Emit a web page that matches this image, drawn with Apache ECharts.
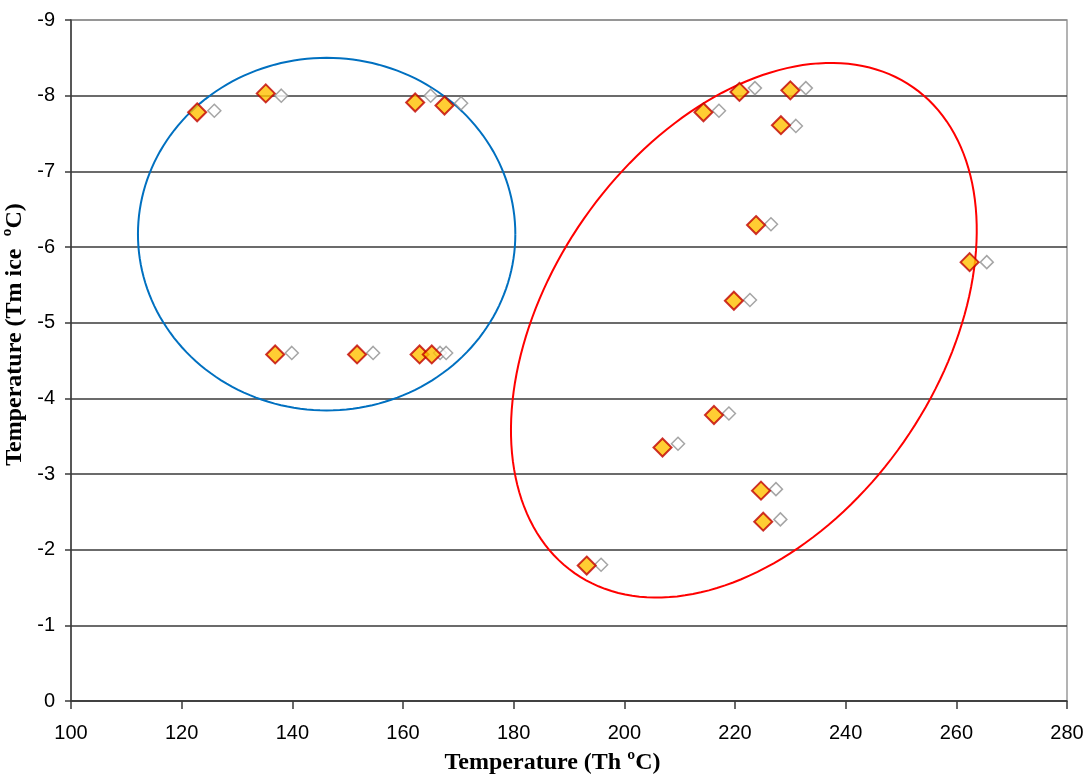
<!DOCTYPE html>
<html>
<head>
<meta charset="utf-8">
<script src="https://cdn.jsdelivr.net/npm/echarts@6/dist/echarts.min.js"></script>
<style>html,body{margin:0;padding:0;background:#fff}#chart{width:1086px;height:775px}</style>
</head>
<body>
<div id="chart"></div>
<script>
// Homogenization temperature (Th) vs ice melting temperature (Tm ice)
const thMain = [122.8,135.2,162.2,167.5,136.9,151.7,163.0,165.2,214.3,220.8,230.0,228.3,223.8,262.4,219.8,216.2,206.9,224.7,225.1,193.2];
const tmMain = [-7.78,-8.03,-7.91,-7.87,-4.58,-4.58,-4.58,-4.58,-7.78,-8.05,-8.07,-7.61,-6.29,-5.80,-5.29,-3.78,-3.35,-2.78,-2.37,-1.79];
const thShadow = [125.9,138.0,165.0,170.5,139.9,154.6,166.7,167.8,217.1,223.6,232.8,231.0,226.5,265.5,222.7,218.9,209.7,227.4,228.2,195.8];
const tmShadow = [-7.8,-8.0,-8.0,-7.9,-4.6,-4.6,-4.6,-4.6,-7.8,-8.1,-8.1,-7.6,-6.3,-5.8,-5.3,-3.8,-3.4,-2.8,-2.4,-1.8];
// ellipse groupings: [centerTh, centerTm, axis1 dTh, axis1 dTm, axis2 dTh, axis2 dTm]
const groupBlue = [146.2, -6.17, 34.1, 0, 0, 2.33];
const groupRed = [221.6, -4.90, 30.6, -3.21, 28.9, 1.475];
const groupColors = ['#0070C0', '#FF0000'];
const xTickLabels = ['100','120','140','160','180','200','220','240','260','280'];
const yTickLabels = ['-9','-8','-7','-6','-5','-4','-3','-2','-1','0'];
const xTitle = 'Temperature (Th \u00BAC)';
const yTitle = 'Temperature (Tm ice  \u00BAC)';

const chart = echarts.init(document.getElementById('chart'), null, {renderer: 'canvas'});
const labelFont = {fontFamily: 'Liberation Sans, Arial, sans-serif', fontSize: 20, color: '#000'};
const titleFont = {fontFamily: 'Liberation Serif, Times New Roman, serif', fontSize: 24, fontWeight: 'bold', color: '#000'};
const gridColors = ['#8c8c8c'].concat(new Array(9).fill('#3a3a3a'));

chart.setOption({
  animation: false,
  backgroundColor: '#fff',
  grid: {left: 71, right: 19, top: 20, bottom: 74, show: true, borderColor: '#9a9a9a', borderWidth: 1.5, outerBoundsMode: 'none'},
  xAxis: {
    type: 'value', min: 100, max: 280, interval: 20,
    name: xTitle, nameLocation: 'middle', nameGap: 50,
    nameTextStyle: Object.assign({padding: [0, 33, 0, 0]}, titleFont),
    axisLine: {show: true, onZero: false, lineStyle: {color: '#3a3a3a', width: 1.5}},
    axisTick: {show: true, inside: false, length: 8, lineStyle: {color: '#3a3a3a', width: 1.5}},
    axisLabel: Object.assign({margin: 22, formatter: (v) => xTickLabels[Math.round((v - 100) / 20)]}, labelFont),
    splitLine: {show: false}
  },
  yAxis: {
    type: 'value', min: -9, max: 0, interval: 1, inverse: true,
    name: yTitle, nameLocation: 'middle', nameGap: 38,
    nameTextStyle: Object.assign({padding: [0, 0, 0, 52]}, titleFont),
    axisLine: {show: true, onZero: false, lineStyle: {color: '#3a3a3a', width: 1.5}},
    axisTick: {show: true, inside: false, length: 6, lineStyle: {color: '#3a3a3a', width: 1.5}},
    axisLabel: Object.assign({margin: 16, formatter: (v) => yTickLabels[Math.round(v + 9)]}, labelFont),
    splitLine: {show: true, lineStyle: {color: gridColors, width: 1.5}}
  },
  series: [
    {
      type: 'custom', silent: true, z: 1,
      data: [groupBlue, groupRed],
      encode: {x: 0, y: 1},
      renderItem: function (params, api) {
        const cx = api.value(0), cy = api.value(1);
        const ux = api.value(2), uy = api.value(3), vx = api.value(4), vy = api.value(5);
        const pts = [];
        const n = 180;
        for (let k = 0; k <= n; k++) {
          const t = 2 * Math.PI * k / n;
          pts.push(api.coord([cx + ux * Math.cos(t) + vx * Math.sin(t), cy + uy * Math.cos(t) + vy * Math.sin(t)]));
        }
        return {type: 'polyline', shape: {points: pts}, style: {fill: null, stroke: groupColors[params.dataIndex], lineWidth: 2}};
      }
    },
    {
      type: 'scatter', z: 2, symbol: 'diamond', symbolSize: 13,
      data: thShadow.map((x, i) => [x, tmShadow[i]]),
      itemStyle: {color: '#ffffff', borderColor: '#8f8f8f', borderWidth: 1.5}
    },
    {
      type: 'scatter', z: 3, symbol: 'diamond', symbolSize: 18,
      data: thMain.map((x, i) => [x, tmMain[i]]),
      itemStyle: {color: '#FFC000', borderColor: '#C00000', borderWidth: 2}
    }
  ]
});
</script>
</body>
</html>
